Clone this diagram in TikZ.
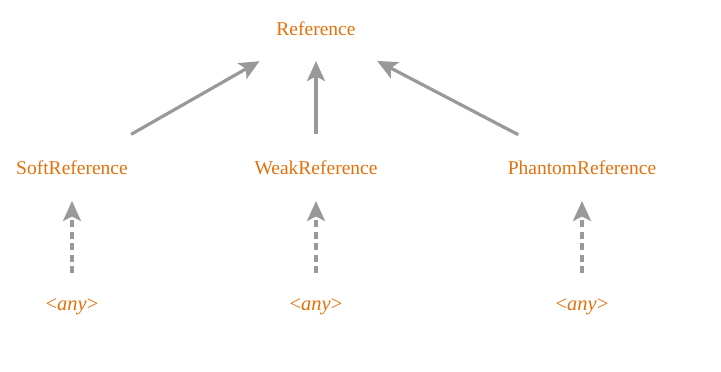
\documentclass[tikz,border=0pt]{standalone}
\usepackage{fontspec}
\setmainfont{Liberation Serif}
\usetikzlibrary{arrows.meta}
\definecolor{lbl}{RGB}{228,112,10}
\definecolor{edgegray}{RGB}{153,153,153}
\begin{document}
\begin{tikzpicture}[x=1pt,y=-1pt,
  lab/.style={text=lbl,font=\fontsize{19.5}{23}\selectfont,inner sep=0pt},
  anylab/.style={lab,font=\fontsize{20.5}{24}\selectfont},
  conn/.style={draw=edgegray,line width=3.2pt,-{Stealth[length=20pt,width=18pt,inset=4.5pt]}},
  dconn/.style={conn,dash pattern=on 7pt off 4.5pt}]
\useasboundingbox (0,0) rectangle (721,372);
\node[lab] (ref) at (316,29) {Reference};
\node[lab] (soft) at (72,168) {SoftReference};
\node[lab] (weak) at (316,168) {WeakReference};
\node[lab] (phantom) at (582,168) {PhantomReference};
\node[anylab] (any1) at (72,307) {<\textit{any}>};
\node[anylab] (any2) at (316,307) {<\textit{any}>};
\node[anylab] (any3) at (582,307) {<\textit{any}>};
\draw[conn,shorten <=68pt,shorten >=65pt] (soft.center) -- (ref.center);
\draw[conn,shorten <=34pt,shorten >=32pt] (weak.center) -- (ref.center);
\draw[conn,shorten <=72pt,shorten >=69pt] (phantom.center) -- (ref.center);
\draw[dconn,shorten <=34pt,shorten >=33pt] (any1.center) -- (soft.center);
\draw[dconn,shorten <=34pt,shorten >=33pt] (any2.center) -- (weak.center);
\draw[dconn,shorten <=34pt,shorten >=33pt] (any3.center) -- (phantom.center);
\end{tikzpicture}
\end{document}
